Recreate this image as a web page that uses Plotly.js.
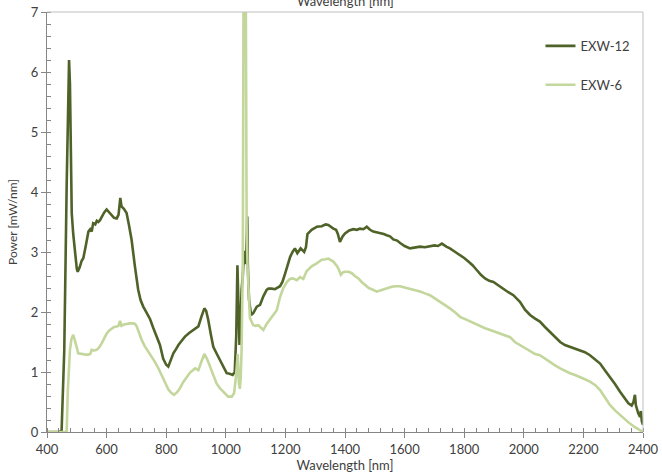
<!DOCTYPE html>
<html>
<head>
<meta charset="utf-8">
<script src="https://cdn.plot.ly/plotly-3.0.1.min.js"></script>
<style>html,body{margin:0;padding:0;background:#fff;}#chart{width:662px;height:476px;}</style>
</head>
<body>
<div id="chart"></div>
<script>
const seriesNames = ["EXW-12", "EXW-6"];

const wlExw12 = [400,440,449,458,466,471,474,477,480,483,488,494,500,503,510,516,522,530,539,545,550,555,562,567,572,578,584,592,600,608,617,625,634,640,646,650,658,667,675,684,695,706,714,723,735,746,757,768,779,790,800,807,815,824,833,841,852,863,877,891,900,908,918,928,934,941,950,958,970,981,992,1003,1013,1023,1030,1035,1039,1042,1046,1050,1053,1057,1061,1064,1068,1072,1074,1078,1085,1092,1098,1104,1115,1120,1126,1137,1143,1154,1165,1182,1190,1199,1208,1216,1224,1232,1240,1251,1263,1269,1274,1288,1299,1305,1322,1335,1344,1352,1361,1370,1376,1383,1392,1400,1414,1428,1440,1450,1462,1473,1484,1495,1507,1518,1530,1540,1551,1562,1575,1585,1600,1618,1635,1652,1668,1685,1700,1712,1725,1740,1752,1770,1786,1800,1814,1828,1842,1856,1870,1884,1898,1915,1931,1948,1965,1987,2004,2021,2038,2054,2071,2088,2105,2122,2138,2155,2172,2189,2205,2222,2240,2256,2272,2289,2306,2323,2337,2351,2362,2368,2373,2376,2384,2390,2393,2396,2400];
const powerExw12 = [0,0,0.02,1.37,4.1,5.6,6.2,5.8,4.42,3.65,3.3,2.98,2.72,2.67,2.75,2.85,2.9,3.1,3.34,3.38,3.34,3.48,3.46,3.52,3.5,3.53,3.59,3.66,3.71,3.67,3.62,3.57,3.56,3.62,3.9,3.76,3.72,3.65,3.45,3.2,2.76,2.37,2.2,2.09,1.98,1.88,1.73,1.59,1.45,1.22,1.12,1.09,1.2,1.31,1.38,1.45,1.52,1.59,1.65,1.7,1.72,1.76,1.92,2.06,2.02,1.87,1.62,1.42,1.3,1.2,1.08,0.98,0.97,0.95,1.0,1.6,2.78,2.0,1.45,1.9,2.37,2.6,3.0,3.0,2.8,3.59,2.76,2.2,1.95,1.98,2.03,2.09,2.12,2.2,2.26,2.37,2.39,2.39,2.38,2.43,2.5,2.64,2.8,2.92,3.0,3.06,2.98,3.06,3.0,3.08,3.3,3.37,3.4,3.42,3.43,3.46,3.45,3.42,3.39,3.37,3.3,3.17,3.26,3.31,3.36,3.38,3.37,3.39,3.38,3.42,3.37,3.34,3.33,3.31,3.3,3.28,3.26,3.21,3.19,3.15,3.1,3.06,3.08,3.09,3.08,3.09,3.11,3.1,3.14,3.09,3.06,3.0,2.95,2.9,2.84,2.78,2.7,2.62,2.56,2.52,2.5,2.44,2.39,2.33,2.28,2.17,2.04,1.95,1.89,1.84,1.75,1.67,1.58,1.5,1.45,1.42,1.39,1.37,1.33,1.28,1.21,1.14,1.03,0.92,0.8,0.67,0.57,0.48,0.44,0.5,0.62,0.45,0.31,0.25,0.35,0.18,0.12];

const wlExw6 = [400,460,466,470,477,482,488,492,496,505,514,522,530,539,545,550,558,567,575,584,592,600,608,617,625,634,640,645,650,658,667,678,690,696,701,709,718,728,740,751,762,775,790,800,807,815,826,836,846,857,869,880,897,908,918,928,937,947,958,969,980,992,1000,1008,1020,1028,1034,1040,1044,1047,1050,1053,1057,1059,1061,1065,1067,1070,1073,1077,1081,1092,1100,1109,1118,1126,1137,1148,1160,1171,1182,1193,1205,1215,1225,1238,1249,1260,1271,1288,1305,1322,1335,1344,1361,1374,1380,1386,1393,1400,1411,1422,1433,1445,1456,1467,1480,1490,1507,1518,1529,1545,1557,1570,1585,1600,1618,1635,1652,1668,1685,1700,1719,1735,1752,1770,1786,1803,1820,1837,1853,1870,1887,1904,1920,1937,1954,1970,1987,2004,2021,2038,2054,2071,2088,2105,2122,2138,2155,2172,2189,2205,2222,2240,2256,2272,2289,2306,2323,2340,2356,2373,2390,2400];
const powerExw6 = [0,0,0.02,0.7,1.37,1.55,1.62,1.56,1.48,1.31,1.3,1.3,1.29,1.29,1.3,1.37,1.36,1.37,1.41,1.48,1.56,1.64,1.69,1.73,1.75,1.76,1.77,1.85,1.77,1.79,1.8,1.81,1.81,1.8,1.76,1.65,1.53,1.43,1.34,1.26,1.17,1.05,0.89,0.77,0.71,0.66,0.62,0.66,0.73,0.83,0.92,0.99,1.06,1.03,1.17,1.3,1.22,1.09,0.94,0.81,0.73,0.67,0.62,0.59,0.59,0.65,0.92,1.3,0.82,0.72,0.9,1.37,2.8,5,10,10,6,3.4,2.76,2.2,1.9,1.78,1.77,1.78,1.74,1.7,1.8,1.87,1.95,2.03,2.25,2.4,2.5,2.55,2.56,2.53,2.58,2.55,2.68,2.76,2.81,2.87,2.88,2.89,2.84,2.76,2.7,2.62,2.66,2.67,2.67,2.65,2.6,2.56,2.5,2.45,2.4,2.38,2.34,2.36,2.38,2.4,2.42,2.43,2.43,2.41,2.39,2.37,2.34,2.31,2.28,2.23,2.17,2.11,2.06,1.99,1.92,1.88,1.84,1.8,1.76,1.73,1.7,1.67,1.64,1.62,1.58,1.5,1.45,1.4,1.34,1.3,1.28,1.22,1.17,1.11,1.06,1.02,0.98,0.95,0.92,0.88,0.84,0.78,0.7,0.58,0.45,0.36,0.28,0.2,0.14,0.08,0.03,0.0];

const xTickVals = [400,600,800,1000,1200,1400,1600,1800,2000,2200,2400];
const yTickVals = [0,1,2,3,4,5,6,7];
const xTitle = "Wavelength [nm]";
const yTitle = "Power [mW/nm]";

const FONT = "Lato, 'Open Sans', sans-serif";
const TXT = "#404040";

const traces = [
  {x: wlExw12, y: powerExw12, name: seriesNames[0], type: "scatter", mode: "lines",
   line: {color: "#4f6228", width: 2.6}, legendgroup: "a"},
  {x: wlExw6, y: powerExw6, name: seriesNames[1], type: "scatter", mode: "lines",
   line: {color: "#c3d69b", width: 2.6}, legendgroup: "b"}
];

const layout = {
  width: 662, height: 476,
  margin: {l: 47, r: 19, t: 12, b: 44},
  paper_bgcolor: "#ffffff", plot_bgcolor: "#ffffff",
  font: {family: FONT, size: 13, color: TXT},
  showlegend: true,
  legend: {x: 0.828, y: 0.955, xanchor: "left", yanchor: "top",
           traceorder: "grouped", tracegroupgap: 19,
           font: {family: FONT, size: 13, color: TXT}, bgcolor: "rgba(0,0,0,0)"},
  xaxis: {
    range: [400, 2400], tickvals: xTickVals, ticktext: xTickVals.map(String),
    showgrid: false, zeroline: false, showline: true, linecolor: "#868686", linewidth: 1,
    ticks: "outside", ticklen: 5, tickcolor: "#868686",
    minor: {dtick: 40, ticks: "inside", ticklen: 4, tickcolor: "#868686", showgrid: false},
    tickfont: {family: FONT, size: 13, color: TXT},
    title: {text: xTitle, font: {family: FONT, size: 13, color: TXT}, standoff: 5}
  },
  yaxis: {
    range: [0, 7], tickvals: yTickVals, ticktext: yTickVals.map(String),
    showgrid: false, zeroline: false, showline: true, linecolor: "#868686", linewidth: 1,
    ticks: "outside", ticklen: 5, tickcolor: "#868686",
    minor: {dtick: 0.2, ticks: "inside", ticklen: 4, tickcolor: "#868686", showgrid: false},
    tickfont: {family: FONT, size: 13, color: TXT},
    title: {text: yTitle, font: {family: FONT, size: 12, color: TXT}, standoff: 10}
  },
  shapes: [
    {type: "line", xref: "paper", yref: "paper", x0: 0, x1: 1, y0: 1, y1: 1, line: {color: "#bfbfbf", width: 1}},
    {type: "line", xref: "paper", yref: "paper", x0: 1, x1: 1, y0: 0, y1: 1, line: {color: "#bfbfbf", width: 1}}
  ],
  annotations: [
    {text: xTitle, xref: "paper", yref: "paper", x: 0.5, y: 1.027, xanchor: "center", yanchor: "middle",
     showarrow: false, font: {family: FONT, size: 13, color: TXT}}
  ]
};

Plotly.newPlot("chart", traces, layout, {staticPlot: true, displayModeBar: false});
</script>
</body>
</html>
